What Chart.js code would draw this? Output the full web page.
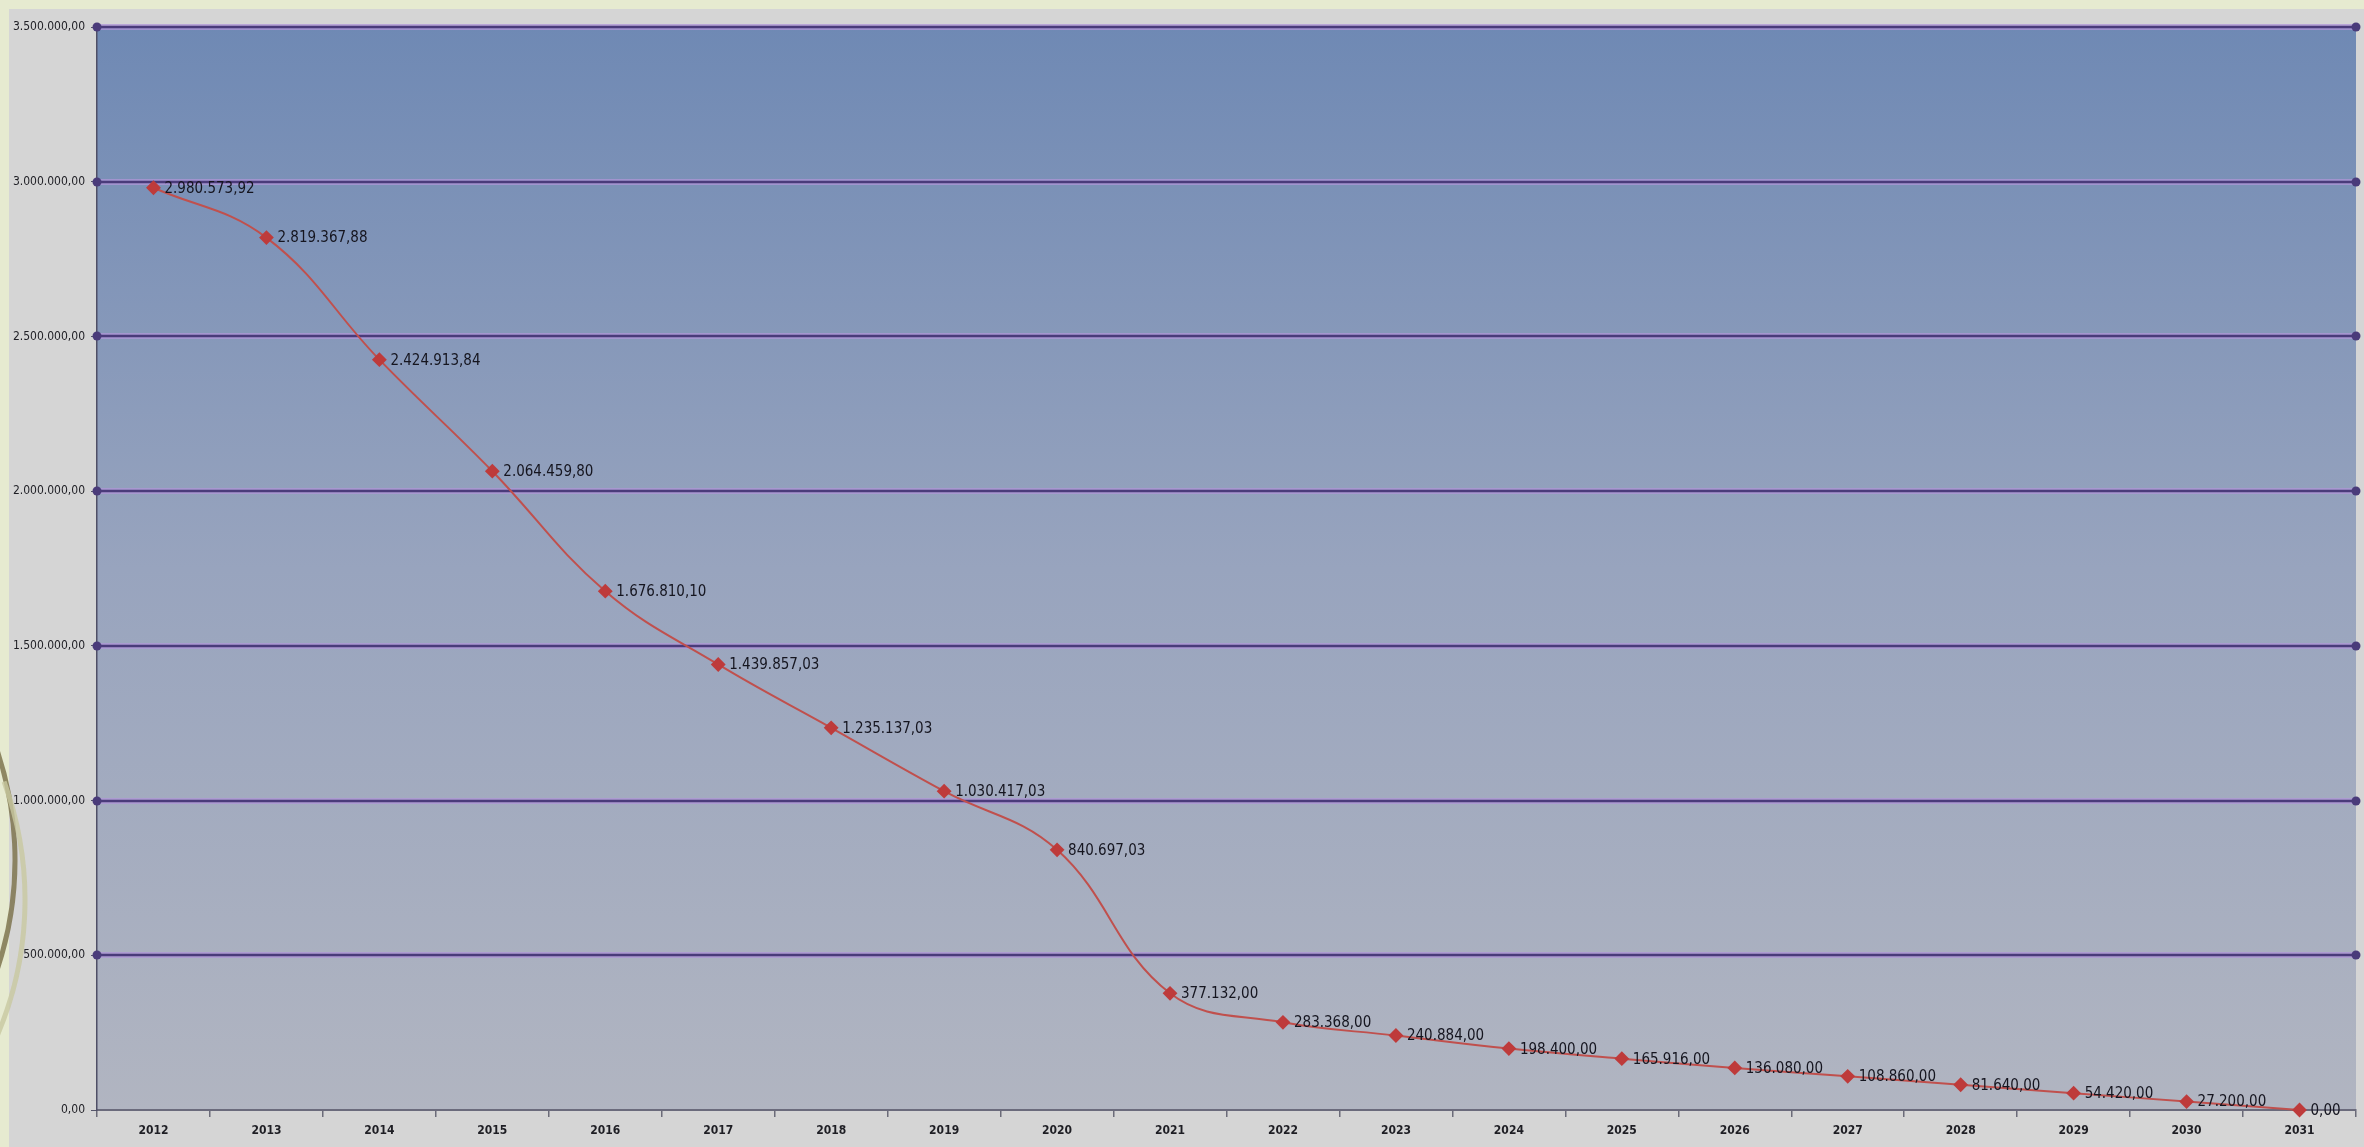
<!DOCTYPE html>
<html>
<head>
<meta charset="utf-8">
<script src="https://cdn.jsdelivr.net/npm/chart.js@4"></script>
<style>
  html, body { margin: 0; padding: 0; background: #e6ead0; }
  #wrap { width: 2364px; height: 1147px; }
</style>
</head>
<body>
<div id="wrap"><canvas id="grafico"></canvas></div>
<script>
const anios = ['2012', '2013', '2014', '2015', '2016', '2017', '2018', '2019', '2020', '2021',
  '2022', '2023', '2024', '2025', '2026', '2027', '2028', '2029', '2030', '2031'];
const saldos = [2980573.92, 2819367.88, 2424913.84, 2064459.80, 1676810.10, 1439857.03,
  1235137.03, 1030417.03, 840697.03, 377132.00, 283368.00, 240884.00, 198400.00,
  165916.00, 136080.00, 108860.00, 81640.00, 54420.00, 27200.00, 0.00];
const yMin = 0;
const yMax = 3500000;
const yPaso = 500000;

const fmt = v => v.toLocaleString('de-DE', { minimumFractionDigits: 2, maximumFractionDigits: 2 });

// fondo: marco, zona gris y degradado del area de trazado
const fondo = {
  id: 'fondo',
  beforeDraw(chart) {
    const { ctx, chartArea: a, width, height } = chart;
    ctx.save();
    ctx.fillStyle = '#e6ead0';
    ctx.fillRect(0, 0, width, height);
    ctx.fillStyle = '#d5d5d5';
    ctx.fillRect(9, 9, width - 9, height - 9);
    // arcos decorativos a la izquierda
    ctx.strokeStyle = 'rgba(120,110,70,0.8)';
    ctx.lineWidth = 5;
    ctx.beginPath();
    ctx.arc(-330, 860, 345, -0.45, 0.35);
    ctx.stroke();
    ctx.strokeStyle = 'rgba(200,200,160,0.8)';
    ctx.beginPath();
    ctx.arc(-320, 900, 345, -0.35, 0.45);
    ctx.stroke();
    const g = ctx.createLinearGradient(0, a.top, 0, a.bottom);
    g.addColorStop(0, '#6f89b4');
    g.addColorStop(0.5, '#98a4be');
    g.addColorStop(1, '#b1b5c1');
    ctx.fillStyle = g;
    ctx.fillRect(a.left, a.top, a.right - a.left, a.bottom - a.top);
    ctx.restore();
  },
  beforeDatasetsDraw(chart) {
    const { ctx, chartArea: a, scales: { y } } = chart;
    ctx.save();
    y.ticks.forEach(t => {
      if (t.value === 0) return;
      const py = Math.round(y.getPixelForValue(t.value));
      ctx.strokeStyle = 'rgba(175,150,215,0.75)';
      ctx.lineWidth = 6;
      ctx.beginPath(); ctx.moveTo(a.left, py); ctx.lineTo(a.right, py); ctx.stroke();
      ctx.strokeStyle = '#4a3b7a';
      ctx.lineWidth = 2.5;
      ctx.beginPath(); ctx.moveTo(a.left, py); ctx.lineTo(a.right, py); ctx.stroke();
      ctx.fillStyle = '#4a3b7a';
      [a.left, a.right].forEach(px => {
        ctx.beginPath(); ctx.arc(px, py, 4.5, 0, Math.PI * 2); ctx.fill();
      });
    });
    ctx.restore();
  },
  afterDatasetsDraw(chart) {
    const { ctx } = chart;
    const meta = chart.getDatasetMeta(0);
    ctx.save();
    ctx.font = '15px "DejaVu Sans Condensed", "DejaVu Sans", sans-serif';
    ctx.fillStyle = '#15151f';
    ctx.textBaseline = 'middle';
    ctx.textAlign = 'left';
    meta.data.forEach((p, i) => {
      ctx.fillText(fmt(saldos[i]), p.x + 11, p.y + 1);
    });
    ctx.restore();
  }
};

new Chart(document.getElementById('grafico'), {
  type: 'line',
  data: {
    labels: anios,
    datasets: [{
      data: saldos,
      borderColor: '#c0504d',
      borderWidth: 2,
      tension: 0.4,
      pointStyle: 'rectRot',
      pointRadius: 6,
      pointBackgroundColor: '#be3b3b',
      pointBorderColor: '#be3b3b',
      clip: false
    }]
  },
  options: {
    responsive: true,
    maintainAspectRatio: false,
    animation: false,
    layout: { padding: { top: 27, right: 7, left: 0, bottom: 0 } },
    plugins: { legend: { display: false }, tooltip: { enabled: false } },
    scales: {
      x: {
        offset: true,
        grid: { offset: true, drawOnChartArea: false, drawTicks: true, tickLength: 7, color: '#6b6b78', lineWidth: 1.5 },
        border: { color: '#6b6b7c', width: 2 },
        ticks: {
          color: '#1e1e24',
          padding: 7,
          maxRotation: 0,
          autoSkip: false,
          font: { family: '"DejaVu Sans Condensed", "DejaVu Sans", sans-serif', size: 12, weight: 'bold' }
        },
        afterFit: s => { s.height = 37; }
      },
      y: {
        min: yMin,
        max: yMax,
        grid: { drawOnChartArea: false, drawTicks: true, tickLength: 6, color: '#55556a' },
        border: { color: '#4f4f66', width: 1.5 },
        ticks: {
          stepSize: yPaso,
          color: '#1e1e24',
          padding: 6,
          callback: v => fmt(v),
          font: { family: '"DejaVu Sans Condensed", "DejaVu Sans", sans-serif', size: 12 }
        },
        afterFit: s => { s.width = 97; }
      }
    }
  },
  plugins: [fondo]
});
</script>
</body>
</html>
